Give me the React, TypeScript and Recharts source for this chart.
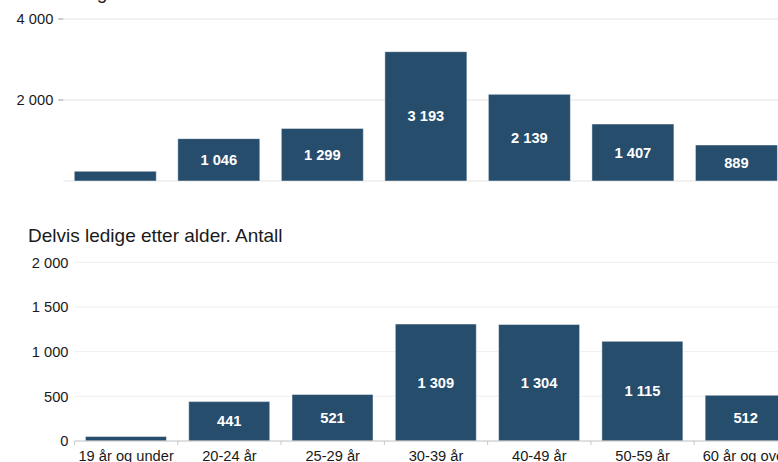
import { BarChart, Bar, XAxis, YAxis, CartesianGrid, LabelList } from 'recharts';

// Arbeidsledige etter alder (helt / delvis ledige)
const ageGroups = ['19 år og under', '20-24 år', '25-29 år', '30-39 år', '40-49 år', '50-59 år', '60 år og over'];
const heltLedige = [240, 1046, 1299, 3193, 2139, 1407, 889];
const delvisLedige = [50, 441, 521, 1309, 1304, 1115, 512];
const heltTicks = [0, 2000, 4000];
const delvisTicks = [0, 500, 1000, 1500, 2000];

const heltTitle = 'Helt ledige etter alder. Antall';
const delvisTitle = 'Delvis ledige etter alder. Antall';

const BAR_COLOR = '#274d6d';
const FONT = '"Liberation Sans", Arial, sans-serif';
const TEXT = '#1a1a1a';

const fmt = (v: number) => String(v).replace(/\B(?=(\d{3})+(?!\d))/g, ' ');

const heltData = ageGroups.map((name, i) => ({ name, value: heltLedige[i] }));
const delvisData = ageGroups.map((name, i) => ({ name, value: delvisLedige[i] }));

function BarValue(props: any) {
  const { x, y, width, height, value } = props;
  if (height < 18) return null;
  return (
    <text
      x={x + width / 2}
      y={y + height / 2}
      textAnchor="middle"
      dominantBaseline="central"
      fill="#ffffff"
      fontWeight="bold"
      fontSize={14.67}
      fontFamily={FONT}
    >
      {fmt(value)}
    </text>
  );
}

const X_TICK_SIZE = 4;
const X_TICK_MARGIN = 6;

function AgeTick(props: any) {
  const { x, y, payload } = props;
  const axisY = y - X_TICK_SIZE - X_TICK_MARGIN;
  const left = x - (payload.offset || 0);
  return (
    <g>
      <line x1={left} x2={left} y1={axisY} y2={axisY + X_TICK_SIZE} stroke="#c8c8c8" />
      <text x={x} y={y} dy="0.71em" textAnchor="middle" fill={TEXT} fontSize={14.67} fontFamily={FONT}>
        {payload.value}
      </text>
    </g>
  );
}

const titleStyle = {
  position: 'absolute' as const,
  left: 28,
  fontSize: 19,
  lineHeight: '19px',
  fontFamily: FONT,
  color: TEXT,
  whiteSpace: 'nowrap' as const,
};

export default function App() {
  return (
    <div
      style={{
        position: 'fixed',
        left: 0,
        top: 0,
        width: 778,
        height: 462,
        overflow: 'hidden',
        background: '#ffffff',
      }}
    >
      <div style={{ ...titleStyle, top: -17 }}>{heltTitle}</div>
      <div style={{ position: 'absolute', left: 0, top: 0 }}>
        <BarChart
          width={788}
          height={186}
          data={heltData}
          margin={{ top: 19, right: 0, bottom: 5, left: 0 }}
          barCategoryGap="10.6%"
        >
          <CartesianGrid vertical={false} stroke="#e3e3e3" />
          <XAxis dataKey="name" hide />
          <YAxis
            width={63.3}
            domain={[0, 4000]}
            ticks={heltTicks}
            tickFormatter={fmt}
            axisLine={false}
            tickLine={{ stroke: '#999999' }}
            tickSize={5}
            tickMargin={5}
            tick={{ fill: TEXT, fontSize: 14.67, fontFamily: FONT }}
          />
          <Bar dataKey="value" fill={BAR_COLOR} stroke="#ffffff" strokeOpacity={0.45} isAnimationActive={false}>
            <LabelList dataKey="value" content={BarValue} />
          </Bar>
        </BarChart>
      </div>

      <div style={{ ...titleStyle, top: 226 }}>{delvisTitle}</div>
      <div style={{ position: 'absolute', left: 0, top: 250 }}>
        <BarChart
          width={797.5}
          height={221}
          data={delvisData}
          margin={{ top: 12.3, right: 0, bottom: 0, left: 0 }}
          barCategoryGap="10.6%"
        >
          <CartesianGrid vertical={false} stroke="#eeeeee" />
          <XAxis
            dataKey="name"
            height={30}
            interval={0}
            axisLine={{ stroke: '#c8c8c8' }}
            tickLine={false}
            tickSize={X_TICK_SIZE}
            tickMargin={X_TICK_MARGIN}
            tick={<AgeTick />}
          />
          <YAxis
            width={74.5}
            domain={[0, 2000]}
            ticks={delvisTicks}
            tickFormatter={fmt}
            axisLine={false}
            tickLine={false}
            tickSize={0}
            tickMargin={6}
            tick={{ fill: TEXT, fontSize: 14.67, fontFamily: FONT }}
          />
          <Bar dataKey="value" fill={BAR_COLOR} stroke="#ffffff" strokeOpacity={0.45} isAnimationActive={false}>
            <LabelList dataKey="value" content={BarValue} />
          </Bar>
        </BarChart>
      </div>
    </div>
  );
}
